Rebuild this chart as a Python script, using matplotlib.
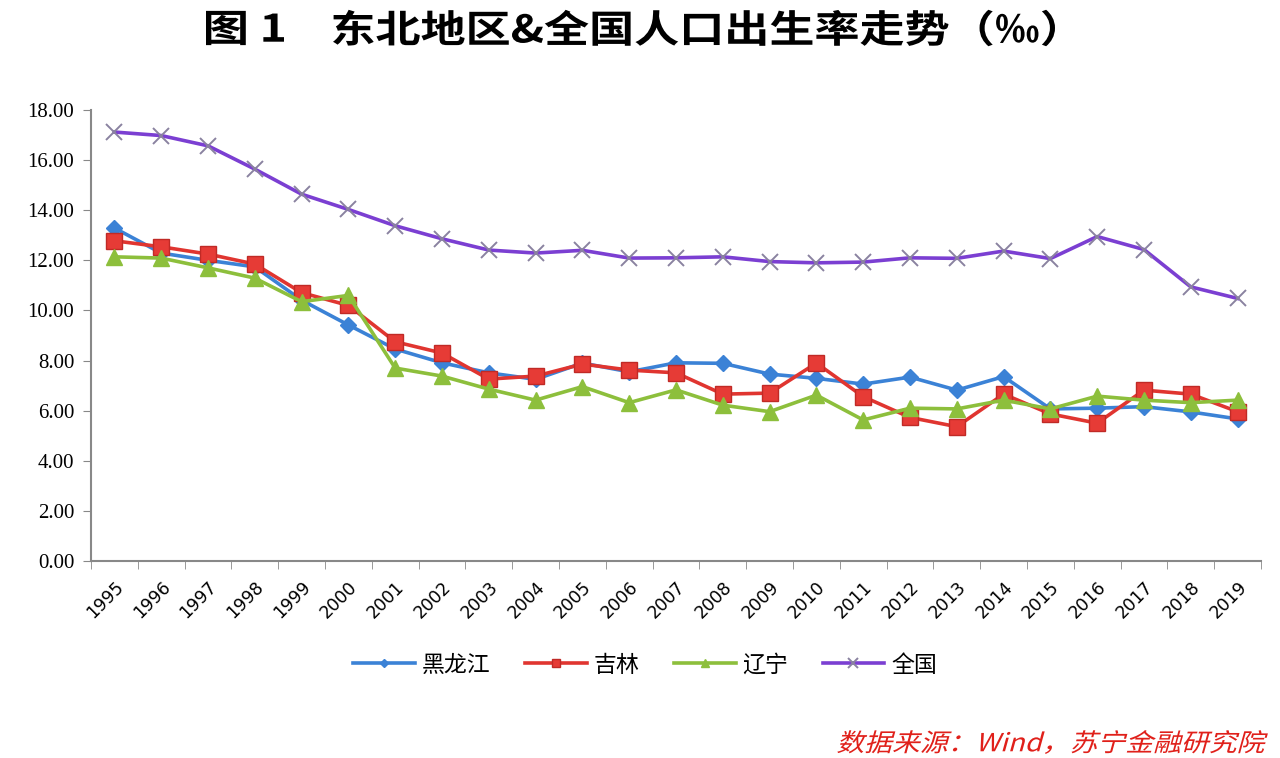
import matplotlib.pyplot as plt
import numpy as np
from matplotlib.textpath import TextPath
from matplotlib.patches import PathPatch
from matplotlib.font_manager import FontProperties
from matplotlib.transforms import Affine2D

plt.rcParams['font.family'] = ['Noto Sans CJK SC', 'DejaVu Sans']

years = [str(y) for y in range(1995, 2020)]
heilongjiang = [13.29, 12.29, 12.00, 11.74, 10.41, 9.42, 8.46, 7.91, 7.51, 7.25, 7.90, 7.55, 7.91, 7.89,
                7.46, 7.29, 7.06, 7.34, 6.82, 7.36, 6.07, 6.10, 6.16, 5.95, 5.67]
jilin = [12.78, 12.54, 12.25, 11.85, 10.71, 10.20, 8.75, 8.30, 7.26, 7.38, 7.86, 7.62, 7.51, 6.66,
         6.70, 7.90, 6.56, 5.73, 5.36, 6.66, 5.87, 5.50, 6.82, 6.66, 5.96]
liaoning = [12.14, 12.09, 11.70, 11.29, 10.35, 10.60, 7.70, 7.38, 6.86, 6.42, 6.96, 6.32, 6.83, 6.22,
            5.96, 6.62, 5.63, 6.10, 6.07, 6.42, 6.07, 6.58, 6.42, 6.32, 6.42]
national = [17.12, 16.98, 16.57, 15.64, 14.64, 14.03, 13.38, 12.86, 12.41, 12.29, 12.40, 12.09, 12.10, 12.14,
            11.95, 11.90, 11.93, 12.10, 12.08, 12.37, 12.07, 12.95, 12.43, 10.94, 10.48]
series_names = ['黑龙江', '吉林', '辽宁', '全国']
yticks = np.arange(0, 18.01, 2)

W, H = 1280, 758
fig = plt.figure(figsize=(W / 100, H / 100), dpi=100)
ax = fig.add_axes([91 / W, 1 - 561 / H, 1170 / W, 451 / H])

x = np.arange(len(years))
ax.plot(x, heilongjiang, color='#3b82d6', lw=2.6, marker='D', ms=8, mfc='#3b82d6', mec='#3b82d6',
        label=series_names[0])
ax.plot(x, jilin, color='#e03530', lw=2.6, marker='s', ms=11, mfc='#e63b36', mec='#c02a26',
        label=series_names[1])
ax.plot(x, liaoning, color='#8dbf3c', lw=2.6, marker='^', ms=11, mfc='#8dbf3c', mec='#8dbf3c',
        label=series_names[2])
ax.plot(x, national, color='#7b3fd2', lw=2.6, marker='x', ms=12, mew=1.4, mec='#8a82a0',
        label=series_names[3])

ax.set_xlim(-0.5, len(years) - 0.5)
ax.set_ylim(0, 18)
ax.set_yticks(yticks)
ax.set_yticklabels([f'{v:.2f}' for v in yticks], family='Liberation Serif', fontsize=15)
ax.set_xticks(x)
ax.set_xticklabels(years, family='DejaVu Sans', fontsize=12.5, rotation=45, ha='right',
                   rotation_mode='anchor')
ax.set_xticks(np.arange(-0.5, len(years), 1), minor=True)
ax.tick_params(axis='x', which='major', length=0, pad=12)
ax.tick_params(axis='x', which='minor', length=6, color='#888888', direction='out')
ax.tick_params(axis='y', length=6, color='#888888', direction='out', pad=6)
for s in ['top', 'right']:
    ax.spines[s].set_visible(False)
for s in ['left', 'bottom']:
    ax.spines[s].set_color('#888888')
    ax.spines[s].set_linewidth(1.5)

handles, labels = ax.get_legend_handles_labels()
leg = fig.legend(handles, labels, loc='center', bbox_to_anchor=(645 / W, 1 - 665 / H), ncol=4,
                 frameon=False, fontsize=16.5, handlelength=2.7, columnspacing=1.5, markerscale=0.55,
                 handletextpad=0.3)


def stretched_text(s, x0, x1, yc, size, color, weight, skew=0.0):
    # draw text as a path, scaled to span x0..x1 (pixels) and centred at yc
    tp = TextPath((0, 0), s, size=size, prop=FontProperties(family='Noto Sans CJK SC', weight=weight))
    ext = tp.get_extents()
    sx = (x1 - x0) / ext.width
    tr = (Affine2D().translate(-ext.x0, -(ext.y0 + ext.y1) / 2).skew_deg(skew, 0)
          .scale(sx, 1).translate(x0, H - yc))
    fig.patches.append(PathPatch(tp, transform=tr, color=color, lw=0, figure=fig))


stretched_text('图 1', 206, 284, 28, 38, 'black', 'bold')
stretched_text('东北地区&全国人口出生率走势（‰）', 333, 1055, 28, 38, 'black', 'bold')
stretched_text('数据来源：Wind，苏宁金融研究院', 840, 1266, 742, 25, '#e0201a', 'medium', skew=14)

fig.savefig('out.png', dpi=100)
